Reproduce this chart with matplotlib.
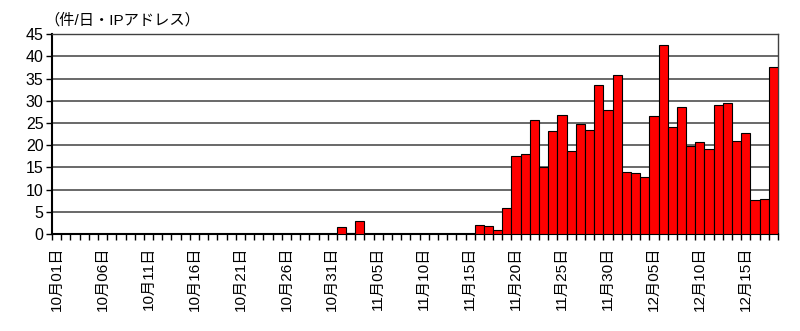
import numpy as np
import pandas as pd
import matplotlib
matplotlib.use('Agg')
import matplotlib.pyplot as plt

plt.rcParams['font.family'] = ['Liberation Sans', 'Noto Sans CJK JP', 'DejaVu Sans']

# daily counts, 10/01 - 12/18
oct_vals = [0] * 31
nov_vals = [1.65, 0.2, 3.0, 0, 0, 0, 0, 0, 0, 0, 0, 0, 0, 0, 0,
            2.1, 1.9, 0.9, 5.85, 17.6, 17.9, 25.7, 15.15, 23.3, 26.85,
            18.75, 24.75, 23.5, 33.45, 27.9]
dec_vals = [35.85, 13.9, 13.65, 12.75, 26.5, 42.6, 24.0, 28.7, 19.9,
            20.6, 19.1, 29.0, 29.4, 21.0, 22.8, 7.65, 7.95, 37.65]
values = oct_vals + nov_vals + dec_vals

dates = pd.date_range('2000-10-01', '2000-12-18', freq='D')
labels = ['{}月{:02d}日'.format(d.month, d.day) for d in dates]
ylabel = '（件/日・IPアドレス）'

fig = plt.figure(figsize=(8, 3.31), dpi=100)
ax = fig.add_axes([0.065, 0.293, 0.9075, 0.604])

x = np.arange(len(values))
ax.bar(x, values, width=1.0, color='#ff0000', edgecolor='black', linewidth=0.8, zorder=3)

ax.set_xlim(-0.5, len(values) - 0.5)
ax.set_ylim(0, 45)
ax.set_yticks(np.arange(0, 46, 5))
ax.yaxis.grid(True, color='#404040', linewidth=1.1, zorder=0)
ax.tick_params(axis='y', labelsize=11.5, length=4, width=1, pad=2)

ax.set_xticks(x[::5])
ax.set_xticklabels(labels[::5], rotation=90, fontsize=11, va='top')
ax.set_xticks(np.arange(-0.5, len(values), 1), minor=True)
ax.tick_params(axis='x', which='major', length=0, pad=9)
ax.tick_params(axis='x', which='minor', length=4, width=1)

for s in ['left', 'bottom']:
    ax.spines[s].set_linewidth(1.5)
    ax.spines[s].set_color('black')
for s in ['top', 'right']:
    ax.spines[s].set_linewidth(1.0)
    ax.spines[s].set_color('#404040')

fig.text(0.055, 0.94, ylabel, fontsize=11, ha='left', va='center')

plt.savefig('out.png', dpi=100)
